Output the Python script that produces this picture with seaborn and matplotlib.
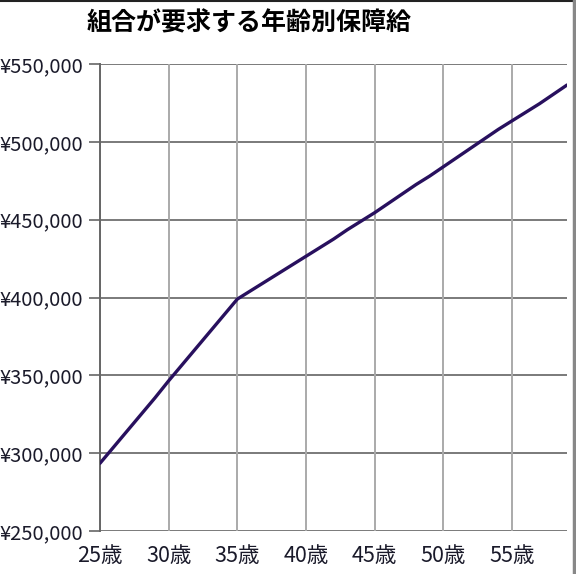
import matplotlib
matplotlib.use("Agg")
import matplotlib.pyplot as plt
import seaborn as sns
import pandas as pd
from matplotlib.ticker import FixedLocator, FuncFormatter
from matplotlib.lines import Line2D

ages = list(range(25, 60))
salary = [293500, 304000, 314500, 325000, 335500, 346500, 357000, 367500, 378000, 388500,
          399000, 404500, 410000, 415500, 421000, 426500, 432000, 437500, 443500, 449000,
          454500, 460500, 466500, 472500, 478000, 484000, 490000, 496000, 502000, 508000,
          513500, 519000, 524500, 530500, 536500]
title = "組合が要求する年齢別保障給"
x_ticks = [25, 30, 35, 40, 45, 50, 55]
x_labels = [f"{a}歳" for a in x_ticks]
y_ticks = [250000, 300000, 350000, 400000, 450000, 500000, 550000]

sns.set_style("white")
plt.rcParams['font.family'] = ['Noto Sans CJK JP', 'DejaVu Sans']

df = pd.DataFrame({"age": ages, "salary": salary})

fig = plt.figure(figsize=(5.76, 5.74), dpi=100)
ax = fig.add_axes([100/576, 1-531/574, (567-100)/576, (531-64)/574])

sns.lineplot(data=df, x="age", y="salary", ax=ax, color="#28105e", linewidth=2.4, zorder=5)

ax.set_xlim(25, 59)
ax.set_ylim(250000, 550000)
ax.set_xlabel("")
ax.set_ylabel("")

ax.xaxis.set_major_locator(FixedLocator(x_ticks))
ax.set_xticklabels(x_labels)
ax.xaxis.set_minor_locator(FixedLocator([25, 35, 45, 55]))
ax.tick_params(axis="x", which="major", length=0, pad=10, labelsize=15.5, labelcolor="#1a1a2a")
ax.tick_params(axis="x", which="minor", length=6, width=1.2, color="#666666", bottom=True)

ax.yaxis.set_major_locator(FixedLocator(y_ticks))
ax.yaxis.set_major_formatter(FuncFormatter(lambda v, p: f"¥{int(v):,}"))
ax.tick_params(axis="y", which="major", length=8, width=1.2, color="#666666", pad=4,
               labelsize=14.5, labelcolor="#1a1a2a", left=True)

ax.grid(False)
for yt in y_ticks:
    ax.axhline(yt, color="#7a7a7a", linewidth=1.4, zorder=1)
for xt in x_ticks:
    ax.axvline(xt, color="#aaaaaa", linewidth=1.4, zorder=1)

for side in ["top", "right", "bottom"]:
    ax.spines[side].set_visible(False)
ax.spines["left"].set_color("#666666")
ax.spines["left"].set_linewidth(1.4)

fig.text(249/576, 1-23/574, title, ha="center", va="center", fontsize=18, fontweight="bold",
         color="black")

# figure frame (top and right edges)
fig.add_artist(Line2D([0, 1], [0.999, 0.999], transform=fig.transFigure, color="#222222", linewidth=1.5))
fig.add_artist(Line2D([574/576, 574/576], [0, 1], transform=fig.transFigure, color="#888888", linewidth=2.5))

fig.savefig("out.png", dpi=100)
